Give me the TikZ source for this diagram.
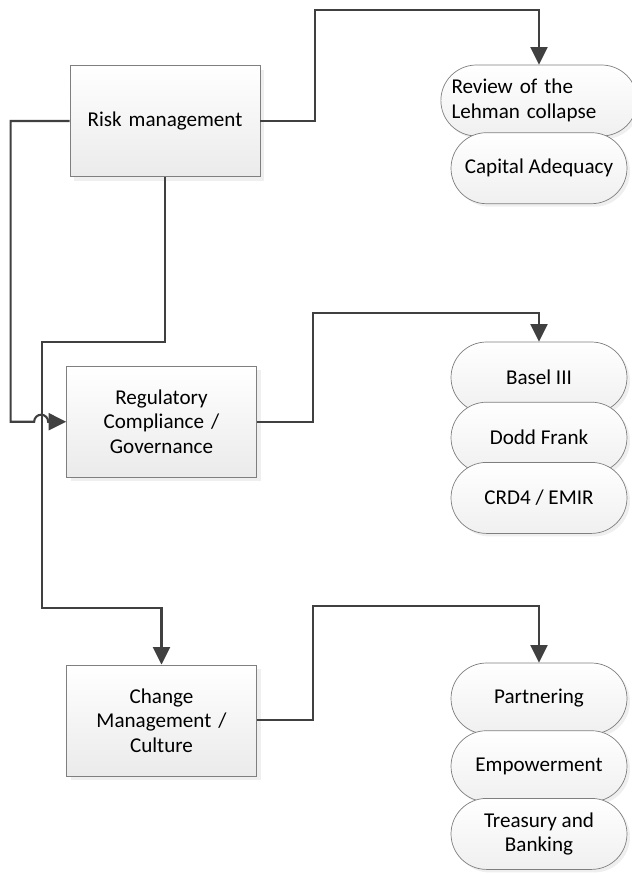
\documentclass[tikz,border=0pt]{standalone}
\usepackage{fontspec}
\setmainfont{Carlito}
\usetikzlibrary{shapes.misc,positioning,arrows.meta,shadows}

\definecolor{wire}{HTML}{404040}
\definecolor{rim}{HTML}{7F7F7F}

\begin{document}
\begin{tikzpicture}[
        font=\fontsize{12}{14}\selectfont,
        area/.style={rectangle, draw=rim, line width=0.4pt, top color=white, bottom color=gray!16,
            minimum width=3.8cm, minimum height=2.22cm, align=center, text width=3.3cm,
            drop shadow={shadow xshift=0.08cm, shadow yshift=-0.08cm, fill=gray!25}},
        pill/.style={rounded rectangle, draw=rim, line width=0.4pt, top color=white, bottom color=gray!12,
            minimum width=3.66cm, minimum height=1.42cm, align=center, inner xsep=2pt,
            drop shadow={shadow xshift=0.06cm, shadow yshift=-0.06cm, fill=gray!25}},
        flow/.style={draw=wire, line width=1.2pt, -{Triangle[width=0.34cm, length=0.35cm]}},
        link/.style={draw=wire, line width=1.2pt}
    ]
        \useasboundingbox (0,0) rectangle (12.64,-17.48);

        % left column
        \node[area] (risk) at (3.3,-2.42) {Risk management};
        \node[area, below=3.78cm of risk, xshift=-0.07cm] (reg) {Regulatory\\Compliance /\\Governance};
        \node[area, below=3.74cm of reg] (change) {Change\\Management /\\Culture};

        % right column
        \node[pill, text width=3.5cm, align=left] (lehman) at (10.78,-2.01) {Review of the\\Lehman collapse};
        \node[pill, below=-0.08cm of lehman] (capital) {Capital Adequacy};

        \node[pill] (basel) at (10.78,-7.55) {Basel III};
        \node[pill, below=-0.23cm of basel] (dodd) {Dodd Frank};
        \node[pill, below=-0.23cm of dodd] (crd) {CRD4 / EMIR};

        \node[pill] (partner) at (10.78,-13.97) {Partnering};
        \node[pill, below=-0.08cm of partner] (empower) {Empowerment};
        \node[pill, below=-0.08cm of empower] (treasury) {Treasury and\\Banking};

        % connectors
        \draw[flow] (risk.east) -- ++(1.1,0) |- ([yshift=1.1cm]lehman.north) -- (lehman.north);
        \draw[flow] (reg.east) -- ++(1.12,0) |- ([yshift=0.58cm]basel.north) -- (basel.north);
        \draw[flow] (change.east) -- ++(1.12,0) |- ([yshift=1.14cm]partner.north) -- (partner.north);

        \draw[flow] (risk.south) -- ++(0,-3.3) -| ([xshift=-2.39cm, yshift=1.14cm]change.north) -| (change.north);
        \draw[flow] (risk.west) -- ++(-1.18,0) |- ([xshift=-0.64cm]reg.west)
            arc[start angle=180, end angle=0, radius=0.14cm] -- (reg.west);
    \end{tikzpicture}
\end{document}
